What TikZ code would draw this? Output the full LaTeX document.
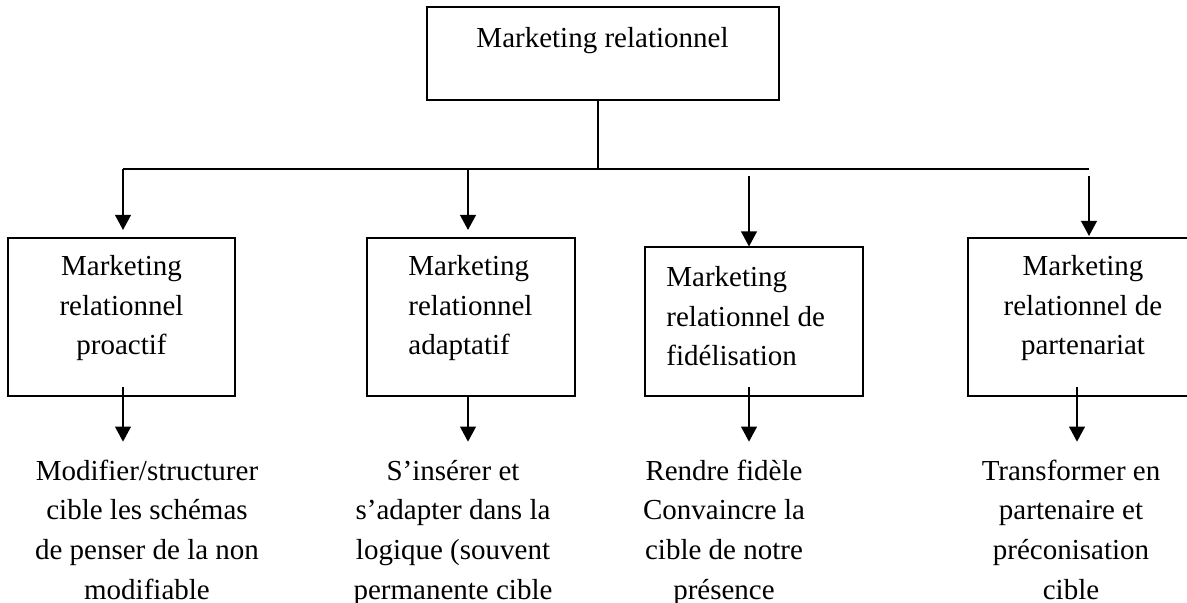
\documentclass[tikz,border=0pt]{standalone}
\usepackage{fontspec}
\setmainfont{Liberation Serif}
\usetikzlibrary{arrows.meta}
\tikzset{
  mrbox/.style={draw,line width=1pt,inner sep=0pt},
  mrtext/.style={inner sep=0pt,anchor=base,align=center},
  mrleft/.style={inner sep=0pt,anchor=base west,align=left},
  ln/.style={line width=1pt},
  arr/.style={line width=1pt,-{Triangle[length=7.5pt,width=7.8pt]}}
}
\newcommand{\mrbox}[5]{\node[mrbox,minimum width=#3*0.5pt,minimum height=#4*0.5pt] (#5) at (#1,#2) {};}
\newcommand{\arr}[2]{\draw[arr] (#1) -- (#2);}
\begin{document}
\begin{tikzpicture}[x=0.5pt,y=-0.5pt,font=\fontsize{14.5pt}{19.8pt}\selectfont]
	\useasboundingbox (0,0) rectangle (1187,603);
	% racine
	\mrbox{603}{53.5}{352}{93}{mr}
	\node[mrtext] (mrt) at (602.5,48) {Marketing relationnel};
	\coordinate (j0) at (598,169);
	\draw[ln] (mr.south -| j0) -- (j0);
	\coordinate (j1) at (123,169); \coordinate (j4) at (1089,169);
	\draw[ln] (j1) -- (j4);
	% les quatre formes (ancre = ligne de base de la derniere ligne)
	\mrbox{121.5}{316.85}{227}{158.3}{b1}
	\mrbox{471}{316.85}{208}{158.3}{b2}
	\mrbox{754}{321.75}{218}{148.5}{b3}
	\mrbox{1083}{316.85}{230}{158.3}{b4}
	\node[mrtext] (t1) at (121.5,355) {Marketing\\relationnel\\proactif};
	\node[mrleft] (t2) at (408,355) {Marketing\\relationnel\\adaptatif};
	\node[mrleft] (t3) at (666,366) {Marketing\\relationnel de\\fidélisation};
	\node[mrtext] (t4) at (1083,355) {Marketing\\relationnel de\\partenariat};
	\coordinate (a1) at (123,230);
	\coordinate (s2) at (468,169); \coordinate (a2) at (468,230);
	\coordinate (s3) at (749,176); \coordinate (a3) at (749,246.5);
	\coordinate (s4) at (1089,176); \coordinate (a4) at (1089,236);
	\arr{j1}{a1} \arr{s2}{a2} \arr{s3}{a3} \arr{s4}{a4}
	% objectifs
	\node[mrtext] (d1) at (147,599) {Modifier/structurer\\cible les schémas\\de penser de la non\\modifiable};
	\node[mrtext] (d2) at (453,599) {S’insérer et\\s’adapter dans la\\logique (souvent\\permanente cible};
	\node[mrtext] (d3) at (724,599) {Rendre fidèle\\Convaincre la\\cible de notre\\présence};
	\node[mrtext] (d4) at (1071,599) {Transformer en\\partenaire et\\préconisation\\cible};
	\coordinate (c1) at (123,386.7); \coordinate (e1) at (123,441.7);
	\coordinate (c2) at (468,396); \coordinate (e2) at (468,441.7);
	\coordinate (c3) at (749,387); \coordinate (e3) at (749,441.7);
	\coordinate (c4) at (1077,387); \coordinate (e4) at (1077,441.7);
	\arr{c1}{e1} \arr{c2}{e2} \arr{c3}{e3} \arr{c4}{e4}
\end{tikzpicture}
\end{document}
